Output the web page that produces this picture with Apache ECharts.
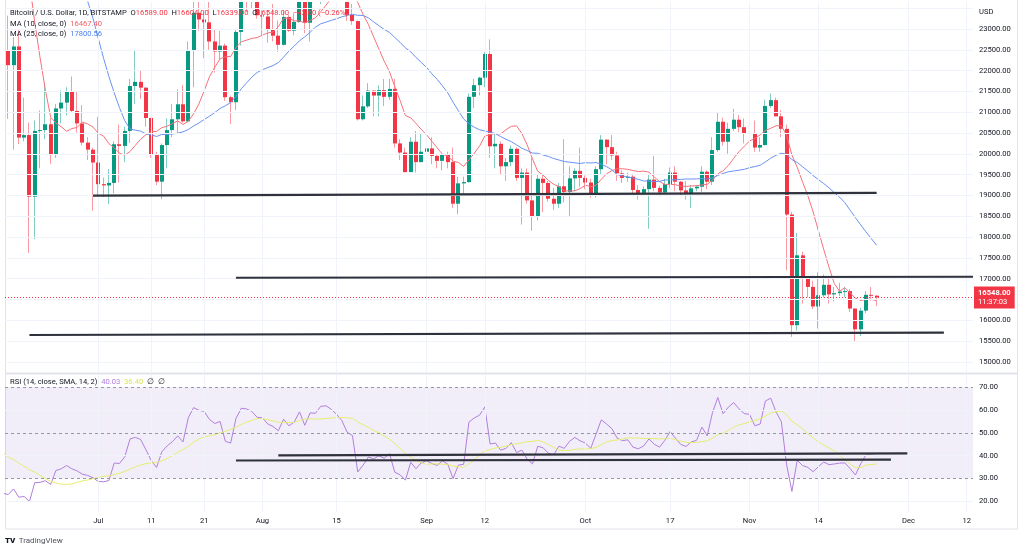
<!DOCTYPE html>
<html><head><meta charset="utf-8">
<script src="https://cdn.jsdelivr.net/npm/echarts@6/dist/echarts.min.js"></script>
<style>html,body{margin:0;padding:0;background:#fff}#c{width:1021px;height:550px}</style>
</head><body><div id="c"></div>
<script>
// Day index 0 = 2022-06-13, last candle index 165 = 2022-11-25
const tickDays   = [18, 28, 38, 49, 63, 80, 91, 110, 126, 141, 154, 171, 182];
const tickLabels = ['Jul','11','21','Aug','15','Sep','12','Oct','17','Nov','14','Dec','12'];
const priceTicks = [15000,15500,16000,16500,17000,17500,18000,18500,19000,19500,20000,20500,21000,21500,22000,22500,23000];
const priceGrid  = [15000,15500,16000,16500,17000,17500,18000,18500,19000,19500,20000,20500,21000,21500,22000,22500,23000,23500];
const rsiTicks   = [20,30,40,50,60,70];

// closes before the visible window (2022-05-01 .. 2022-06-12), used for indicator warm-up
const priorCloses = [38470,38530,37750,39690,36550,36010,35470,34040,30100,31020,28940,29050,29280,30080,31310,29860,30420,28720,30310,29200,29430,30320,29100,29650,29540,29200,28630,29030,29470,31730,31800,29800,30450,29700,29860,29910,31370,31130,30210,30110,29080,28420,26570];

const opens = [26570,22480,22130,22580,20390,20450,18970,20550,20570,20710,19970,21090,21230,21490,21030,20730,20270,20100,19790,19270,19240,19300,20230,20190,20550,21630,21730,21590,20860,19970,19330,20210,20570,20830,21190,20780,22480,23390,23230,23160,22700,22460,22600,21360,21240,22930,23840,23800,23660,23330,23300,22980,22840,22620,23290,22960,23170,23800,23150,23950,23930,24400,24440,24300,24100,23850,23340,23190,20830,21140,21520,21400,21530,21370,21560,20250,20030,19560,20290,19800,20050,20130,19950,19830,19990,19800,18800,19290,19320,21370,21650,21830,22400,20180,20240,19700,19800,20120,19420,19550,18880,18500,19400,19300,18920,18800,19220,19080,19410,19590,19420,19310,19050,19630,20340,20160,19960,19530,19420,19450,19130,19060,19150,19380,19180,19070,19270,19550,19330,19120,19050,19170,19210,19570,19330,20090,20770,20290,20600,20820,20640,20500,20480,20150,20210,21150,21290,20900,20600,18540,15880,17560,17000,16800,16330,16600,16850,16620,16650,16690,16700,16280,15780,16230,16610,16589];
const highs = [26900,23320,22800,22970,21350,20750,20800,21040,21700,20860,21200,21530,21600,21860,21510,21170,20400,20150,20890,19430,19630,20300,20700,20650,21800,22500,22000,21600,20870,20050,20250,20850,21200,21550,21650,22700,23700,24250,23400,23700,23000,22950,22650,21400,23000,24150,24350,24600,24150,23450,23450,23600,23200,23450,23350,23380,24200,23900,24200,24900,24450,24900,25100,25200,24250,24450,23600,23200,21400,21700,21520,21650,21800,21800,21800,20350,20150,20400,20550,20480,20200,20400,20000,20000,20050,20150,19450,19450,21450,21800,21850,22450,22750,20500,20300,19900,20200,20150,19650,19650,19900,19500,19500,19350,19180,19300,20350,19700,19650,20150,19480,19400,19700,20450,20350,20450,20050,19600,19550,19520,19250,19220,19500,19950,19230,19400,19670,19700,19350,19350,19250,19250,19700,19600,20400,21000,20870,20750,21080,20930,20850,20700,20800,20400,21300,21450,21350,21050,20700,18600,18100,17650,17050,16950,17150,17100,17000,16800,16900,16800,16750,16290,16300,16700,16800,16604];
const lows = [22320,20840,20100,20230,20300,17620,17950,19650,20350,19760,19900,20730,20920,20980,20510,20200,19850,18630,19000,18960,18790,19050,19310,19800,20260,21200,21320,20650,19900,19250,18910,19650,20400,20500,20750,20780,21600,22950,22300,22500,21950,22260,21270,20720,21050,22600,23400,23500,23250,22850,22670,22700,22450,22600,22930,22850,23150,22900,22700,23900,23600,24300,24150,23800,23700,23200,23100,20800,20800,21100,20900,20900,21150,21300,20150,19850,19550,19560,19550,19800,19600,19750,19650,19600,19650,18700,18550,19000,19300,21100,21400,21600,19900,19650,19500,19350,19700,19350,18300,18800,18150,18400,18600,18850,18650,18700,18830,18500,19100,19200,19150,18950,18950,19500,19750,19850,19350,19300,19330,19030,18900,18980,18200,19100,18980,19050,19170,19100,19000,18900,18700,19100,19080,19150,19250,20050,20200,20000,20550,20520,20250,20350,20050,20050,20200,21100,20900,20400,17200,15600,15750,16400,16550,16270,15800,16550,16400,16450,16580,16560,16200,15500,15620,16170,16470,16339];
const closes = [22480,22130,22580,20390,20450,18970,20550,20570,20710,19970,21090,21230,21490,21030,20730,20270,20100,19790,19270,19240,19300,20230,20190,20550,21630,21730,21590,20860,19970,19330,20210,20570,20830,21190,20780,22480,23390,23230,23160,22700,22460,22600,21360,21240,22930,23840,23800,23660,23330,23300,22980,22840,22620,23290,22960,23170,23800,23150,23950,23930,24400,24440,24300,24100,23850,23340,23190,20830,21140,21520,21400,21530,21370,21560,20250,20030,19560,20290,19800,20050,20130,19950,19830,19990,19800,18800,19290,19320,21370,21650,21830,22400,20180,20240,19700,19800,20120,19420,19550,18880,18500,19400,19300,18920,18800,19220,19080,19410,19590,19420,19310,19050,19630,20340,20160,19960,19530,19420,19450,19130,19060,19150,19380,19180,19070,19270,19550,19330,19120,19050,19170,19210,19570,19330,20090,20770,20290,20600,20820,20640,20500,20480,20150,20210,21150,21290,20900,20600,18540,15880,17560,17000,16800,16330,16600,16850,16620,16650,16690,16700,16280,15780,16230,16610,16591,16548];

// drawn trend lines: [dayStart, valueStart, dayEnd, valueEnd]
const priceLines = [[17, 18995, 165, 19060], [44, 17020, 183.2, 17045], [5, 15645, 177.7, 15700]];
const rsiLines   = [[52, 40.1, 170.8, 41.0], [44, 37.9, 167.7, 38.3]];

const lastPrice = 16548;
const header = {name:'Bitcoin / U.S. Dollar, 1D, BITSTAMP', o:'16589.00', h:'16604.00', l:'16339.00', c:'16548.00', chg:'\u221243.00 (\u22120.26%)'};
const maLegend = [['MA (10, close, 0)','16467.40'],['MA (25, close, 0)','17800.56']];
const rsiLegend = ['RSI (14, close, SMA, 14, 2)','40.03','36.40'];

// ---- indicators
const all = priorCloses.concat(closes);
const off = priorCloses.length;
function sma(n){ const out=[]; for(let i=0;i<closes.length;i++){ let s=0; for(let k=0;k<n;k++) s+=all[off+i-k]; out.push([i, s/n]); } return out; }
const ma10 = sma(10), ma25 = sma(25);
const rsiAll = []; { let ag=0, al=0; for(let j=1;j<all.length;j++){ const ch=all[j]-all[j-1]; const g=Math.max(ch,0), l=Math.max(-ch,0);
  if(j<=14){ ag+=g/14; al+=l/14; if(j<14){rsiAll[j]=null; continue;} } else { ag=(ag*13+g)/14; al=(al*13+l)/14; }
  rsiAll[j]= al===0?100:100-100/(1+ag/al); } }
const rsi=[], rsiMa=[];
for(let i=0;i<closes.length;i++){ rsi.push([i, rsiAll[off+i]]); let s=0; for(let k=0;k<14;k++) s+=rsiAll[off+i-k]; rsiMa.push([i, s/14]); }
const candles = closes.map((c,i)=>[i, opens[i], c, lows[i], highs[i]]);

const UP='#089981', DN='#f23645', UPW='rgba(8,153,129,0.5)', DNW='rgba(242,54,69,0.5)';
const F='Roboto, "Noto Sans", sans-serif', FS=7.6, TXT='#131722', GRID='#f0f3fa';
const XMIN=0.38, XMAX=183.2;

const chart = echarts.init(document.getElementById('c'), null, {renderer:'canvas'});
const xBase = (gi, showLabel)=>({type:'value', gridIndex:gi, min:XMIN, max:XMAX, axisLine:{show:false}, axisTick:{show:false}, splitLine:{show:false},
  axisLabel:{show:showLabel, customValues:tickDays, margin:5, fontSize:FS, fontFamily:F, color:TXT, formatter:v=>{const k=tickDays.indexOf(Math.round(v)); return k>=0?tickLabels[k]:'';}}});

const series = [
  {type:'line', xAxisIndex:0, yAxisIndex:0, data:[[0,20000]], showSymbol:false, lineStyle:{width:0}, z:0, silent:true,
   markLine:{silent:true, symbol:'none', label:{show:false}, animation:false, lineStyle:{color:GRID, width:1, type:'solid'},
     data: priceGrid.map(v=>({yAxis:v})).concat(tickDays.map(d=>({xAxis:d})))}},
  {type:'line', xAxisIndex:1, yAxisIndex:1, data:[[0,50]], showSymbol:false, lineStyle:{width:0}, z:0, silent:true,
   markArea:{silent:true, itemStyle:{color:'rgba(126,87,194,0.1)'}, data:[[{yAxis:30},{yAxis:70}]]},
   markLine:{silent:true, symbol:'none', label:{show:false}, animation:false, lineStyle:{color:GRID, width:1, type:'solid'},
     data: [20,40,60].map(v=>({yAxis:v})).concat(tickDays.map(d=>({xAxis:d})))
       .concat([30,50,70].map(v=>({yAxis:v, lineStyle:{color:'#9598a1', type:[3,3], width:1}})))}},
  {type:'custom', xAxisIndex:0, yAxisIndex:0, data:candles, clip:true, z:2, encode:{x:0, y:[1,2,3,4]},
   renderItem:(p, api)=>{
     const x=api.value(0), o=api.value(1), c=api.value(2), l=api.value(3), h=api.value(4);
     const pO=api.coord([x,o]), pC=api.coord([x,c]), pL=api.coord([x,l]), pH=api.coord([x,h]);
     const w=4, x0=Math.round(pO[0]-w/2), up=c>=o;
     const top=Math.min(pO[1],pC[1]), ht=Math.max(1,Math.abs(pO[1]-pC[1]));
     return {type:'group', children:[
       {type:'line', shape:{x1:x0+1.5, y1:pH[1], x2:x0+1.5, y2:pL[1]}, style:{stroke:up?UPW:DNW, lineWidth:1}},
       {type:'rect', shape:{x:x0, y:top, width:w, height:ht}, style:{fill:up?UP:DN}}]};
   }},
  {type:'line', xAxisIndex:0, yAxisIndex:0, data:ma10, showSymbol:false, z:3, lineStyle:{color:'#f7707a', width:1}, silent:true,
   markLine:{silent:true, symbol:'none', animation:false, lineStyle:{color:DN, type:[1,2], width:1},
     label:{show:true, position:'end', distance:1, formatter:'{a|16548.00}\n{b|11:37:03}', backgroundColor:DN, padding:[2,4,2,4],
       rich:{a:{color:'#fff', fontSize:FS, fontFamily:F, fontWeight:'bold', lineHeight:9}, b:{color:'#fff', fontSize:FS, fontFamily:F, lineHeight:9}}},
     data:[{yAxis:lastPrice}]}},
  {type:'line', xAxisIndex:0, yAxisIndex:0, data:ma25, showSymbol:false, z:3, lineStyle:{color:'#6a92f2', width:1}, silent:true},
  {type:'line', xAxisIndex:1, yAxisIndex:1, data:rsi, showSymbol:false, z:3, lineStyle:{color:'#b07fdc', width:1}, silent:true},
  {type:'line', xAxisIndex:1, yAxisIndex:1, data:rsiMa, showSymbol:false, z:3, lineStyle:{color:'#e4ee6e', width:1}, silent:true}
];
priceLines.forEach(s=>series.push({type:'line', xAxisIndex:0, yAxisIndex:0, data:[[s[0],s[1]],[s[2],s[3]]], showSymbol:false, z:5, silent:true, lineStyle:{color:'#2f323c', width:2.2}}));
rsiLines.forEach(s=>series.push({type:'line', xAxisIndex:1, yAxisIndex:1, data:[[s[0],s[1]],[s[2],s[3]]], showSymbol:false, z:5, silent:true, lineStyle:{color:'#2f323c', width:2.2}}));

const rt = (t,c)=>({fill:c, fontSize:FS, fontFamily:F});
chart.setOption({
  animation:false, backgroundColor:'#ffffff',
  grid:[{left:5, right:48, top:2, height:370}, {left:5, right:48, top:375, height:137}],
  xAxis:[xBase(0,false), xBase(1,true)],
  yAxis:[
    {type:'value', gridIndex:0, position:'right', min:14755, max:23649, axisLine:{show:false}, axisTick:{show:false}, splitLine:{show:false},
     axisLabel:{customValues:priceTicks, margin:6, fontSize:FS, fontFamily:F, color:TXT, formatter:v=>v.toFixed(2)}},
    {type:'value', gridIndex:1, position:'right', min:15.3, max:75.4, axisLine:{show:false}, axisTick:{show:false}, splitLine:{show:false},
     axisLabel:{customValues:rsiTicks, margin:6, fontSize:FS, fontFamily:F, color:TXT, formatter:v=>v.toFixed(2)}}
  ],
  series,
  graphic:[
    {type:'rect', z:-10, silent:true, shape:{x:5.5, y:-1, width:1012, height:530}, style:{fill:'transparent', stroke:'#e0e3eb', lineWidth:1}},
    {type:'line', z:-10, silent:true, shape:{x1:5, y1:373.5, x2:1017, y2:373.5}, style:{stroke:'#e0e3eb', lineWidth:2}},
    {type:'text', left:10, top:9, z:100, silent:true, style:{text:
      `{d|${header.name}  O}{r|${header.o}}{d|  H}{r|${header.h}}{d|  L}{r|${header.l}}{d|  C}{r|${header.c}}{r|  ${header.chg}}`,
      rich:{d:rt('',TXT), r:rt('',DN)}}},
    {type:'text', left:10, top:20, z:100, silent:true, style:{text:`{d|${maLegend[0][0]}}{r|  ${maLegend[0][1]}}`, rich:{d:rt('',TXT), r:rt('','#f2606a')}}},
    {type:'text', left:10, top:30, z:100, silent:true, style:{text:`{d|${maLegend[1][0]}}{r|  ${maLegend[1][1]}}`, rich:{d:rt('',TXT), r:rt('','#4a7ff2')}}},
    {type:'text', left:10, top:378, z:100, silent:true, style:{text:`{d|${rsiLegend[0]}}{p|  ${rsiLegend[1]}}{y|  ${rsiLegend[2]}}{d|  \u2205  \u2205}`,
      rich:{d:rt('',TXT), p:rt('','#b07fdc'), y:rt('','#d9e35a')}}},
    {type:'text', left:979, top:8, z:100, silent:true, style:{text:'USD', fill:TXT, fontSize:FS, fontFamily:F}},
    {type:'text', left:5, top:535, z:100, silent:true, style:{text:'{b|TV} {t|TradingView}', rich:{b:{fill:'#131722', fontSize:8, fontWeight:900, fontFamily:F}, t:{fill:'#50535e', fontSize:8, fontFamily:F}}}}
  ]
});
</script></body></html>
